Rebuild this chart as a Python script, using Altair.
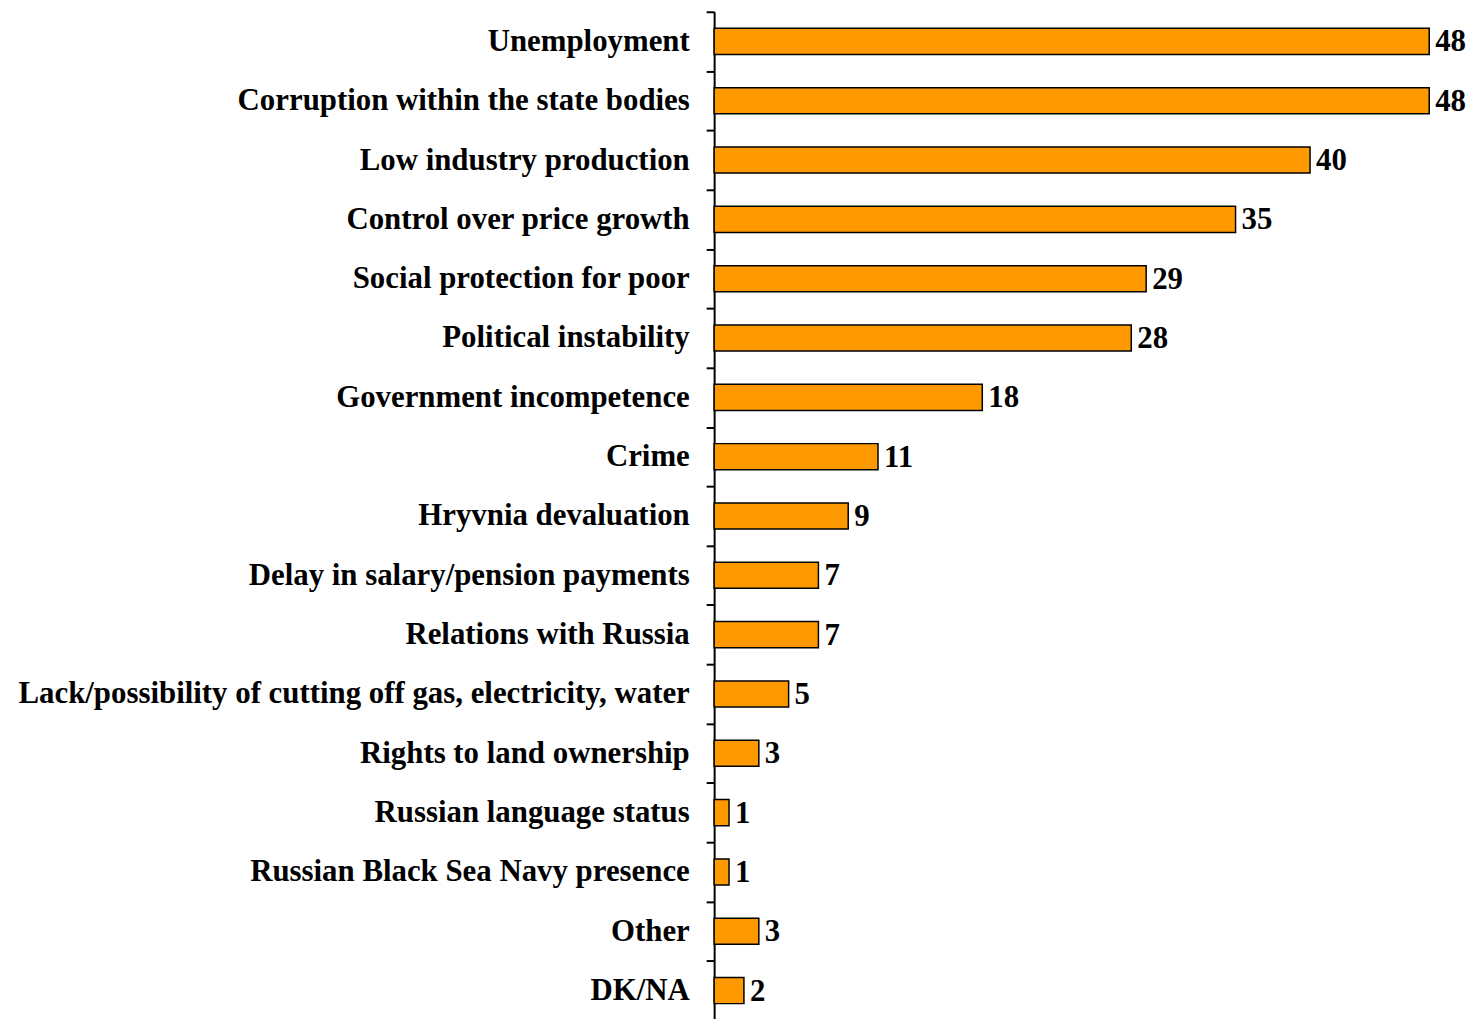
import altair as alt
import pandas as pd

categories = [
    "Unemployment",
    "Corruption within the state bodies",
    "Low industry production",
    "Control over price growth",
    "Social protection for poor",
    "Political instability",
    "Government incompetence",
    "Crime",
    "Hryvnia devaluation",
    "Delay in salary/pension payments",
    "Relations with Russia",
    "Lack/possibility of cutting off gas, electricity, water",
    "Rights to land ownership",
    "Russian language status",
    "Russian Black Sea Navy presence",
    "Other",
    "DK/NA",
]
values = [48, 48, 40, 35, 29, 28, 18, 11, 9, 7, 7, 5, 3, 1, 1, 3, 2]

df = pd.DataFrame({"category": categories, "value": values})

FONT = "Liberation Serif"
FS = 31

y = alt.Y(
    "category:N",
    sort=categories,
    scale=alt.Scale(paddingInner=0, paddingOuter=0),
    axis=alt.Axis(
        title=None,
        tickBand="extent",
        tickSize=8,
        tickWidth=2,
        tickColor="black",
        domainColor="black",
        domainWidth=2,
        labelFont=FONT,
        labelFontSize=FS,
        labelFontWeight="bold",
        labelColor="black",
        labelPadding=17,
        labelLimit=900,
    ),
)
x = alt.X(
    "value:Q",
    scale=alt.Scale(domain=[0, 48], nice=False),
    axis=None,
)

bars = alt.Chart(df).mark_bar(
    color="#FF9900", stroke="black", strokeWidth=1.5, height={"band": 0.44}
).encode(y=y, x=x)

text = alt.Chart(df).mark_text(
    align="left", baseline="middle", dx=6, dy=1, font=FONT, fontSize=FS,
    fontWeight="bold", color="black"
).encode(y=alt.Y("category:N", sort=categories), x="value:Q", text="value:Q")

chart = (
    alt.layer(bars, text)
    .properties(
        width=719,
        height=1014,
        padding={"left": 710, "top": 1, "right": 40, "bottom": 0},
        autosize=alt.AutoSizeParams(type="none"),
    )
    .configure_view(stroke=None)
)

chart.save("out.html", embed_options={"renderer": "svg", "actions": False})
